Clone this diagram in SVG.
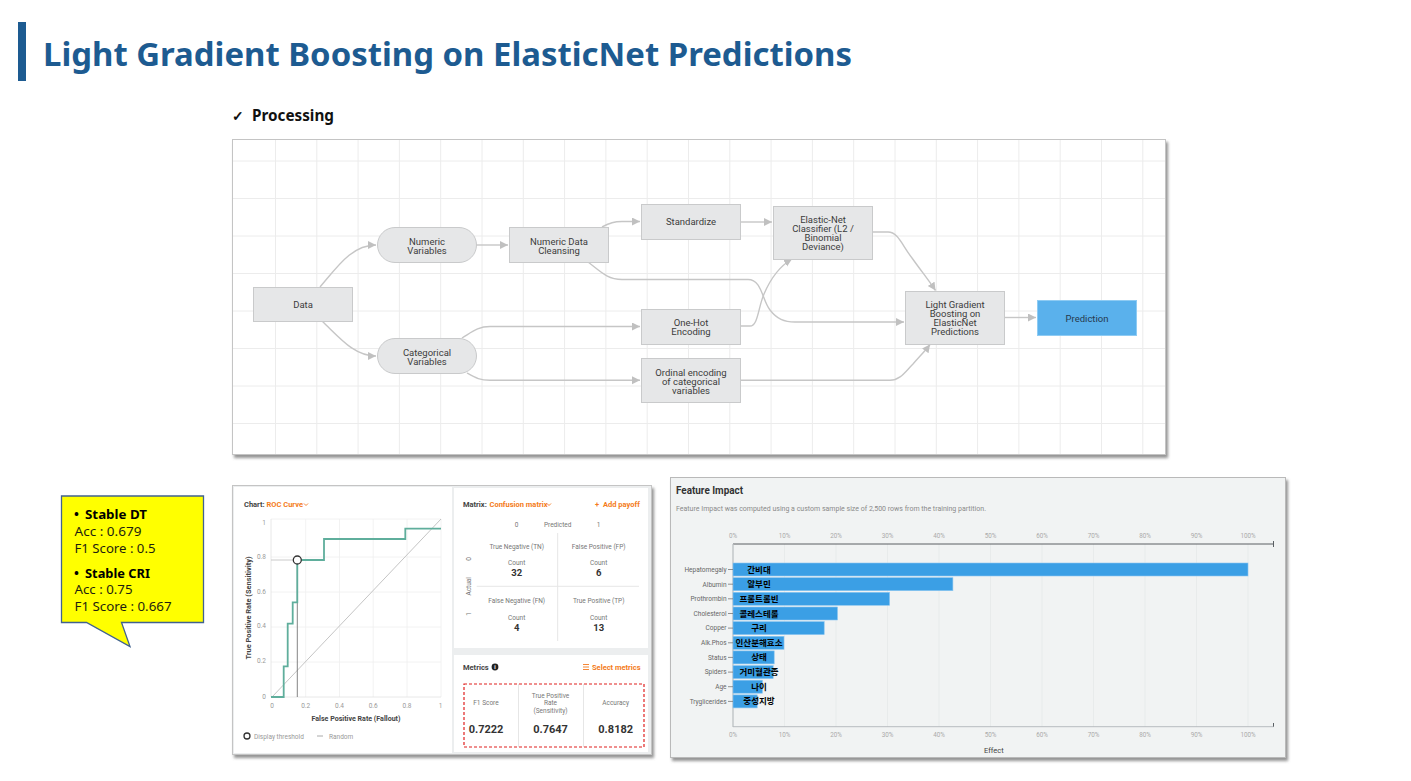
<svg xmlns="http://www.w3.org/2000/svg" width="1411" height="781" viewBox="0 0 1411 781">
  <defs>
    <style>
      .title { font-family: "Noto Sans", "Open Sans", sans-serif; font-weight: 700; fill: #1d5b91; }
      .sub { font-family: "Noto Sans", "Open Sans", sans-serif; font-weight: 700; fill: #111; }
      .node rect { fill: #e6e7e8; stroke: #c9cacb; stroke-width: 1; }
      .node text, .lbl { font-family: Roboto, "Liberation Sans", sans-serif; font-size: 9.5px; fill: #3c3c3c; text-anchor: middle; }
      .pred rect { fill: #5ab1ec; stroke: #8ecbf3; }
      .pred text { fill: #27394d; }
      .conn path { fill: none; stroke: #c6c6c6; stroke-width: 1.4; }
      .grid line { stroke: #ececec; stroke-width: 1; }
      .sm { font-family: Roboto, "Liberation Sans", sans-serif; font-size: 6.5px; fill: #999; }
      .smd { font-family: Roboto, "Liberation Sans", sans-serif; font-size: 6.5px; fill: #777; text-anchor: middle; }
      .hd { font-family: Roboto, "Liberation Sans", sans-serif; font-size: 7.5px; font-weight: 700; fill: #444; }
      .or { font-family: Roboto, "Liberation Sans", sans-serif; font-size: 7.5px; font-weight: 700; fill: #f47b20; }
      .num { font-family: Roboto, "Liberation Sans", sans-serif; font-size: 9.5px; font-weight: 700; fill: #333; text-anchor: middle; }
      .val { font-family: Roboto, "Liberation Sans", sans-serif; font-size: 11px; font-weight: 700; fill: #333; text-anchor: middle; }
      .tick { font-family: Roboto, "Liberation Sans", sans-serif; font-size: 6.3px; fill: #aaa; text-anchor: middle; }
      .feat { font-family: Roboto, "Liberation Sans", sans-serif; font-size: 6.5px; fill: #666; text-anchor: end; }
      .ko { font-family: "Noto Sans CJK KR", sans-serif; font-size: 8.5px; font-weight: 700; fill: #000; text-anchor: middle; }
      .bar { fill: #3b9fe5; stroke: #8cc6f0; stroke-width: 0.6; }
      .co { font-family: "Noto Sans", "Noto Sans CJK KR", sans-serif; font-size: 12.5px; fill: #1e1e10; }
      .cob { font-family: "Noto Sans", "Noto Sans CJK KR", sans-serif; font-size: 13px; font-weight: 700; fill: #000; }
    </style>
    <marker id="arr" markerUnits="userSpaceOnUse" markerWidth="9" markerHeight="9" refX="8" refY="4" orient="auto">
      <path d="M0,0 L8,4 L0,8 z" fill="#c0c0c0"/>
    </marker>
    <filter id="shadow" x="-5%" y="-5%" width="112%" height="115%">
      <feDropShadow dx="2" dy="3" stdDeviation="1.4" flood-color="#6f6f6f" flood-opacity="0.75"/>
    </filter>
  </defs>

  <rect width="1411" height="781" fill="#ffffff"/>

  <!-- heading -->
  <rect x="18" y="22" width="8" height="59" fill="#1d5b91"/>
  <text class="title" x="43" y="66" font-size="33" textLength="809" lengthAdjust="spacingAndGlyphs">Light Gradient Boosting on ElasticNet Predictions</text>
  <text class="sub" x="232" y="121" font-size="14">✓</text>
  <text class="sub" x="252" y="121" font-size="15.5" textLength="82" lengthAdjust="spacingAndGlyphs">Processing</text>

  <!-- pipeline canvas -->
  <g id="pipeline-panel">
    <rect x="232.5" y="139.5" width="933" height="315" fill="#ffffff" stroke="#c4c4c4" filter="url(#shadow)"/>
    <g class="grid">
      <line x1="275.5" y1="140" x2="275.5" y2="454"/><line x1="316.8" y1="140" x2="316.8" y2="454"/>
      <line x1="358.1" y1="140" x2="358.1" y2="454"/><line x1="399.4" y1="140" x2="399.4" y2="454"/>
      <line x1="440.7" y1="140" x2="440.7" y2="454"/><line x1="482" y1="140" x2="482" y2="454"/>
      <line x1="523.3" y1="140" x2="523.3" y2="454"/><line x1="564.6" y1="140" x2="564.6" y2="454"/>
      <line x1="605.9" y1="140" x2="605.9" y2="454"/><line x1="647.2" y1="140" x2="647.2" y2="454"/>
      <line x1="688.5" y1="140" x2="688.5" y2="454"/><line x1="729.8" y1="140" x2="729.8" y2="454"/>
      <line x1="771.1" y1="140" x2="771.1" y2="454"/><line x1="812.4" y1="140" x2="812.4" y2="454"/>
      <line x1="853.7" y1="140" x2="853.7" y2="454"/><line x1="895" y1="140" x2="895" y2="454"/>
      <line x1="936.3" y1="140" x2="936.3" y2="454"/><line x1="977.6" y1="140" x2="977.6" y2="454"/>
      <line x1="1018.9" y1="140" x2="1018.9" y2="454"/><line x1="1060.2" y1="140" x2="1060.2" y2="454"/>
      <line x1="1101.5" y1="140" x2="1101.5" y2="454"/><line x1="1142.8" y1="140" x2="1142.8" y2="454"/>
      <line x1="233" y1="161" x2="1165" y2="161"/><line x1="233" y1="198.5" x2="1165" y2="198.5"/>
      <line x1="233" y1="236" x2="1165" y2="236"/><line x1="233" y1="273.5" x2="1165" y2="273.5"/>
      <line x1="233" y1="311" x2="1165" y2="311"/><line x1="233" y1="348.5" x2="1165" y2="348.5"/>
      <line x1="233" y1="386" x2="1165" y2="386"/><line x1="233" y1="423.5" x2="1165" y2="423.5"/>
    </g>
  </g>

  <!-- connectors -->
  <g id="connectors" class="conn">
    <path d="M320,287 C338,266 352,245 376,245" marker-end="url(#arr)"/>
    <path d="M322,321 C340,338 354,356 376,356" marker-end="url(#arr)"/>
    <path d="M476,245 L508,245" marker-end="url(#arr)"/>
    <path d="M602,227 C610,223 614,221.5 622,221.5 L640,221.5" marker-end="url(#arr)"/>
    <path d="M588,262 C600,271 607,279.5 622,279.5 L748,279.5 C762,279.5 762,300 770,310 C777,319 784,322 795,322 L904,322" marker-end="url(#arr)"/>
    <path d="M462,338 C472,332 478,326.5 490,326.5 L640,326.5" marker-end="url(#arr)"/>
    <path d="M467,373 C476,378 480,380.3 490,380.3 L640,380.3" marker-end="url(#arr)"/>
    <path d="M741,222 L772,222" marker-end="url(#arr)"/>
    <path d="M741,326 L750,326 C758,326 758,308 764,294 C770,280 780,266 792,259" marker-end="url(#arr)"/>
    <path d="M873,232 L888,232 C898,232 902,245 912,258 C922,272 930,282 935.5,290.5" marker-end="url(#arr)"/>
    <path d="M741,380.3 L890,380.3 C900,380.3 905,372 913,364 C920,356 926,350 930,344.5" marker-end="url(#arr)"/>
    <path d="M1005,317.5 L1036,317.5" marker-end="url(#arr)"/>
  </g>

  <!-- nodes -->
  <g id="node-data" class="node">
    <rect x="253.5" y="287.5" width="99" height="34"/>
    <text x="303" y="307.5">Data</text>
  </g>
  <g id="node-numeric-variables" class="node">
    <rect x="377.5" y="227.5" width="99" height="35" rx="17.5"/>
    <text x="427" y="244.5">Numeric</text>
    <text x="427" y="253.5">Variables</text>
  </g>
  <g id="node-categorical-variables" class="node">
    <rect x="377.5" y="338.5" width="99" height="35" rx="17.5"/>
    <text x="427" y="355.5">Categorical</text>
    <text x="427" y="364.5">Variables</text>
  </g>
  <g id="node-numeric-cleansing" class="node">
    <rect x="509.5" y="227.5" width="99" height="35"/>
    <text x="559" y="244.5">Numeric Data</text>
    <text x="559" y="253.5">Cleansing</text>
  </g>
  <g id="node-standardize" class="node">
    <rect x="641.5" y="204.5" width="99" height="35"/>
    <text x="691" y="225">Standardize</text>
  </g>
  <g id="node-one-hot" class="node">
    <rect x="641.5" y="309.5" width="99" height="35"/>
    <text x="691" y="326">One-Hot</text>
    <text x="691" y="335">Encoding</text>
  </g>
  <g id="node-ordinal" class="node">
    <rect x="641.5" y="358.5" width="99" height="44"/>
    <text x="691" y="375.5">Ordinal encoding</text>
    <text x="691" y="384.5">of categorical</text>
    <text x="691" y="393.5">variables</text>
  </g>
  <g id="node-elastic-net" class="node">
    <rect x="773.5" y="206.5" width="99" height="53"/>
    <text x="823" y="222.5">Elastic-Net</text>
    <text x="823" y="231.5">Classifier (L2 /</text>
    <text x="823" y="240.5">Binomial</text>
    <text x="823" y="249.5">Deviance)</text>
  </g>
  <g id="node-lgbm" class="node">
    <rect x="905.5" y="291.5" width="99" height="53"/>
    <text x="955" y="308">Light Gradient</text>
    <text x="955" y="317">Boosting on</text>
    <text x="955" y="326">ElasticNet</text>
    <text x="955" y="335">Predictions</text>
  </g>
  <g id="node-prediction" class="node pred">
    <rect x="1037.5" y="300.5" width="99" height="35"/>
    <text x="1087" y="321.5">Prediction</text>
  </g>

  <!-- callout with baseline scores -->
  <g id="callout">
    <path d="M61.5,496 H203.5 V622.5 H121.5 L130,646.5 L86.5,622.5 H61.5 Z" fill="#ffff00" stroke="#41628f" stroke-width="1.3"/>
    <text class="cob" x="74" y="518.5">•</text>
    <text class="cob" x="85" y="518.5" textLength="62" lengthAdjust="spacingAndGlyphs">Stable DT</text>
    <text class="co" x="74.5" y="535.5" textLength="67" lengthAdjust="spacingAndGlyphs">Acc : 0.679</text>
    <text class="co" x="74.5" y="552.5" textLength="81" lengthAdjust="spacingAndGlyphs">F1 Score : 0.5</text>
    <text class="cob" x="74" y="577.5">•</text>
    <text class="cob" x="85" y="577.5" textLength="65" lengthAdjust="spacingAndGlyphs">Stable CRI</text>
    <text class="co" x="74.5" y="594" textLength="58" lengthAdjust="spacingAndGlyphs">Acc : 0.75</text>
    <text class="co" x="74.5" y="610.5" textLength="97" lengthAdjust="spacingAndGlyphs">F1 Score : 0.667</text>
  </g>

  <!-- evaluation panel: ROC curve, confusion matrix, metrics -->
  <g id="evaluation-panel">
    <rect x="232.5" y="485.5" width="419" height="269" fill="#eceeef" stroke="#c4c4c4" filter="url(#shadow)"/>
    <rect x="234" y="487" width="218" height="266" fill="#ffffff"/>
    <rect x="454" y="488" width="194" height="160" fill="#ffffff"/>
    <rect x="454" y="655" width="194" height="97" fill="#ffffff"/>
  </g>

  <g id="roc-chart">
    <text class="hd" x="244" y="507">Chart:</text>
    <text class="or" x="266.5" y="507">ROC Curve</text>
    <path d="M304,503.5 L306,505.5 L308,503.5" fill="none" stroke="#f47b20" stroke-width="0.9"/>
    <g stroke="#efefef" stroke-width="0.8">
      <line x1="271" y1="519" x2="441" y2="519"/>
      <line x1="271" y1="557" x2="441" y2="557"/>
      <line x1="271" y1="592" x2="441" y2="592"/>
      <line x1="271" y1="627" x2="441" y2="627"/>
      <line x1="271" y1="662" x2="441" y2="662"/>
      <line x1="305.7" y1="519" x2="305.7" y2="697"/>
      <line x1="339.5" y1="519" x2="339.5" y2="697"/>
      <line x1="373.2" y1="519" x2="373.2" y2="697"/>
      <line x1="407" y1="519" x2="407" y2="697"/>
      <line x1="441" y1="519" x2="441" y2="697"/>
    </g>
    <line x1="271" y1="519" x2="271" y2="697" stroke="#e2e2e2" stroke-width="0.8"/>
    <line x1="271" y1="697" x2="441" y2="697" stroke="#e2e2e2" stroke-width="0.8"/>
    <g class="sm" text-anchor="end">
      <text x="266" y="524.5">1</text>
      <text x="266" y="559">0.8</text>
      <text x="266" y="594">0.6</text>
      <text x="266" y="628">0.4</text>
      <text x="266" y="663">0.2</text>
      <text x="266" y="698.5">0</text>
    </g>
    <g class="sm" text-anchor="middle">
      <text x="272" y="708">0</text>
      <text x="305.7" y="708">0.2</text>
      <text x="339.5" y="708">0.4</text>
      <text x="373.2" y="708">0.6</text>
      <text x="407" y="708">0.8</text>
      <text x="440.5" y="708">1</text>
    </g>
    <line x1="272" y1="697" x2="441" y2="519" stroke="#bdbdbd" stroke-width="0.9"/>
    <line x1="271" y1="560" x2="293" y2="560" stroke="#c4c4c4" stroke-width="0.9"/>
    <line x1="297.3" y1="564" x2="297.3" y2="697" stroke="#666" stroke-width="0.8"/>
    <path d="M271,697 H283.7 V666.3 H287.7 V623.7 H292.7 V602.3 H297.3 V560 H324 V539 H405.3 V528.7 H441" fill="none" stroke="#5fae9c" stroke-width="1.8"/>
    <circle cx="297.3" cy="560" r="4" fill="#ffffff" stroke="#333" stroke-width="1.3"/>
    <text class="hd" x="356" y="721" font-size="7" text-anchor="middle" textLength="89" lengthAdjust="spacingAndGlyphs">False Positive Rate (Fallout)</text>
    <text class="hd" x="0" y="0" font-size="7" text-anchor="middle" textLength="103" lengthAdjust="spacingAndGlyphs" transform="translate(250.5,608) rotate(-90)">True Positive Rate (Sensitivity)</text>
    <circle cx="247" cy="736" r="3" fill="#ffffff" stroke="#333" stroke-width="1.3"/>
    <text class="sm" x="254" y="738.5" fill="#777" font-size="7">Display threshold</text>
    <line x1="317" y1="736" x2="323" y2="736" stroke="#aaa" stroke-width="1"/>
    <text class="sm" x="329" y="738.5" fill="#777" font-size="7">Random</text>
  </g>

  <g id="confusion-matrix">
    <text class="hd" x="463" y="507">Matrix:</text>
    <text class="or" x="489.5" y="507">Confusion matrix</text>
    <path d="M547,503.5 L549,505.5 L551,503.5" fill="none" stroke="#f47b20" stroke-width="0.9"/>
    <text class="or" x="595" y="507" font-size="8.5">+</text>
    <text class="or" x="603" y="507">Add payoff</text>
    <text class="smd" x="516.7" y="527">0</text>
    <text class="smd" x="557.7" y="527">Predicted</text>
    <text class="smd" x="598.7" y="527">1</text>
    <line x1="557.7" y1="533" x2="557.7" y2="641" stroke="#e6e6e6" stroke-width="1"/>
    <line x1="476.7" y1="586.3" x2="639" y2="586.3" stroke="#e6e6e6" stroke-width="1"/>
    <text class="smd" x="0" y="0" transform="translate(470.5,586.3) rotate(-90)">Actual</text>
    <text class="smd" x="0" y="0" transform="translate(470.5,559) rotate(-90)">0</text>
    <text class="smd" x="0" y="0" transform="translate(470.5,614) rotate(-90)">1</text>
    <text class="smd" x="516.7" y="548.5" fill="#c8655a">True Negative (TN)</text>
    <text class="smd" x="598.7" y="548.5" fill="#c8655a">False Positive (FP)</text>
    <text class="smd" x="516.7" y="564.5" fill="#888">Count</text>
    <text class="smd" x="598.7" y="564.5" fill="#888">Count</text>
    <text class="num" x="516.7" y="575.5">32</text>
    <text class="num" x="598.7" y="575.5">6</text>
    <text class="smd" x="516.7" y="603" fill="#6d8198">False Negative (FN)</text>
    <text class="smd" x="598.7" y="603" fill="#6d8198">True Positive (TP)</text>
    <text class="smd" x="516.7" y="619.5" fill="#888">Count</text>
    <text class="smd" x="598.7" y="619.5" fill="#888">Count</text>
    <text class="num" x="516.7" y="630.5">4</text>
    <text class="num" x="598.7" y="630.5">13</text>
  </g>

  <g id="metrics">
    <text class="hd" x="463" y="669.5">Metrics</text>
    <circle cx="495" cy="667" r="3.4" fill="#222"/>
    <text x="495" y="669.3" font-family="Roboto, 'Liberation Sans', sans-serif" font-size="5.5" font-weight="700" fill="#ffffff" text-anchor="middle">i</text>
    <g stroke="#f47b20" stroke-width="0.9">
      <line x1="583" y1="664.5" x2="589" y2="664.5"/>
      <line x1="583" y1="667" x2="589" y2="667"/>
      <line x1="583" y1="669.5" x2="589" y2="669.5"/>
    </g>
    <text class="or" x="592" y="669.5">Select metrics</text>
    <line x1="518.5" y1="684" x2="518.5" y2="747" stroke="#e6e6e6"/>
    <line x1="583.5" y1="684" x2="583.5" y2="747" stroke="#e6e6e6"/>
    <rect x="464" y="684" width="180" height="63" fill="none" stroke="#e0201e" stroke-width="1.2" stroke-dasharray="3,2"/>
    <text class="smd" x="486" y="705" font-size="7">F1 Score</text>
    <text class="smd" x="550.5" y="697.5" font-size="7">True Positive</text>
    <text class="smd" x="550.5" y="705" font-size="7">Rate</text>
    <text class="smd" x="550.5" y="712.5" font-size="7">(Sensitivity)</text>
    <text class="smd" x="615.7" y="705" font-size="7">Accuracy</text>
    <text class="val" x="486" y="733">0.7222</text>
    <text class="val" x="550.5" y="733">0.7647</text>
    <text class="val" x="615.7" y="733">0.8182</text>
  </g>

  <!-- feature impact chart -->
  <g id="feature-impact">
    <rect x="670.5" y="477.5" width="615" height="280" fill="#f1f3f3" stroke="#b9b9b9" filter="url(#shadow)"/>
    <text x="676" y="494" font-family="Roboto, 'Liberation Sans', sans-serif" font-size="11.5" font-weight="700" fill="#333" textLength="67" lengthAdjust="spacingAndGlyphs">Feature Impact</text>
    <text x="676" y="511" font-family="Roboto, 'Liberation Sans', sans-serif" font-size="7.5" fill="#8a8a8a" textLength="310" lengthAdjust="spacingAndGlyphs">Feature Impact was computed using a custom sample size of 2,500 rows from the training partition.</text>
    <g stroke="#e6e8e8" stroke-width="0.8">
      <line x1="784.5" y1="544" x2="784.5" y2="727"/><line x1="836" y1="544" x2="836" y2="727"/>
      <line x1="887.5" y1="544" x2="887.5" y2="727"/><line x1="939" y1="544" x2="939" y2="727"/>
      <line x1="990.5" y1="544" x2="990.5" y2="727"/><line x1="1042" y1="544" x2="1042" y2="727"/>
      <line x1="1093.5" y1="544" x2="1093.5" y2="727"/><line x1="1145" y1="544" x2="1145" y2="727"/>
      <line x1="1196.5" y1="544" x2="1196.5" y2="727"/><line x1="1248" y1="544" x2="1248" y2="727"/>
    </g>
    <g class="tick">
      <text x="733" y="538">0%</text><text x="784.5" y="538">10%</text><text x="836" y="538">20%</text>
      <text x="887.5" y="538">30%</text><text x="939" y="538">40%</text><text x="990.5" y="538">50%</text>
      <text x="1042" y="538">60%</text><text x="1093.5" y="538">70%</text><text x="1145" y="538">80%</text>
      <text x="1196.5" y="538">90%</text><text x="1248" y="538">100%</text>
      <text x="733" y="737">0%</text><text x="784.5" y="737">10%</text><text x="836" y="737">20%</text>
      <text x="887.5" y="737">30%</text><text x="939" y="737">40%</text><text x="990.5" y="737">50%</text>
      <text x="1042" y="737">60%</text><text x="1093.5" y="737">70%</text><text x="1145" y="737">80%</text>
      <text x="1196.5" y="737">90%</text><text x="1248" y="737">100%</text>
    </g>
    <line x1="733" y1="544" x2="1273.5" y2="544" stroke="#5a5f63" stroke-width="1"/>
    <line x1="1273.5" y1="541" x2="1273.5" y2="547" stroke="#5a5f63" stroke-width="1"/>
    <line x1="733" y1="726.7" x2="1273.5" y2="726.7" stroke="#b7bcbf" stroke-width="1"/>
    <line x1="1273.5" y1="723" x2="1273.5" y2="726.7" stroke="#5a5f63" stroke-width="1"/>
    <line x1="733" y1="544" x2="733" y2="727" stroke="#b7bcbf" stroke-width="1.2"/>

    <g>
      <rect class="bar" x="733" y="563" width="515" height="13"/>
      <rect class="bar" x="733" y="577.7" width="219.9" height="13"/>
      <rect class="bar" x="733" y="592.3" width="156.6" height="13"/>
      <rect class="bar" x="733" y="607" width="104.5" height="13"/>
      <rect class="bar" x="733" y="621.6" width="91.2" height="13"/>
      <rect class="bar" x="733" y="636.3" width="51" height="13"/>
      <rect class="bar" x="733" y="650.9" width="41.2" height="13"/>
      <rect class="bar" x="733" y="665.6" width="40.2" height="13"/>
      <rect class="bar" x="733" y="680.2" width="29.4" height="13"/>
      <rect class="bar" x="733" y="694.9" width="24.2" height="13"/>
    </g>
    <g stroke="#777" stroke-width="0.8">
      <line x1="728" y1="569.5" x2="733" y2="569.5"/><line x1="728" y1="584.2" x2="733" y2="584.2"/>
      <line x1="728" y1="598.8" x2="733" y2="598.8"/><line x1="728" y1="613.5" x2="733" y2="613.5"/>
      <line x1="728" y1="628.1" x2="733" y2="628.1"/><line x1="728" y1="642.8" x2="733" y2="642.8"/>
      <line x1="728" y1="657.4" x2="733" y2="657.4"/><line x1="728" y1="672.1" x2="733" y2="672.1"/>
      <line x1="728" y1="686.7" x2="733" y2="686.7"/><line x1="728" y1="701.4" x2="733" y2="701.4"/>
    </g>
    <g class="feat">
      <text x="726.5" y="571.8">Hepatomegaly</text>
      <text x="726.5" y="586.5">Albumin</text>
      <text x="726.5" y="601.1">Prothrombin</text>
      <text x="726.5" y="615.8">Cholesterol</text>
      <text x="726.5" y="630.4">Copper</text>
      <text x="726.5" y="645.1">Alk.Phos</text>
      <text x="726.5" y="659.7">Status</text>
      <text x="726.5" y="674.4">Spiders</text>
      <text x="726.5" y="689">Age</text>
      <text x="726.5" y="703.7">Tryglicerides</text>
    </g>
    <g class="ko">
      <text x="759" y="572.5">간비대</text>
      <text x="759" y="587.2">알부민</text>
      <text x="759" y="601.8">프롬트롬빈</text>
      <text x="759" y="616.5">콜레스테롤</text>
      <text x="759" y="631.1">구리</text>
      <text x="759" y="645.8">인산분해효소</text>
      <text x="759" y="660.4">상태</text>
      <text x="759" y="675.1">거미혈관종</text>
      <text x="759" y="689.7">나이</text>
      <text x="759" y="704.4">중성지방</text>
    </g>
    <text x="984" y="752.5" font-family="Roboto, 'Liberation Sans', sans-serif" font-size="7.5" fill="#444">Effect</text>
  </g>
</svg>
